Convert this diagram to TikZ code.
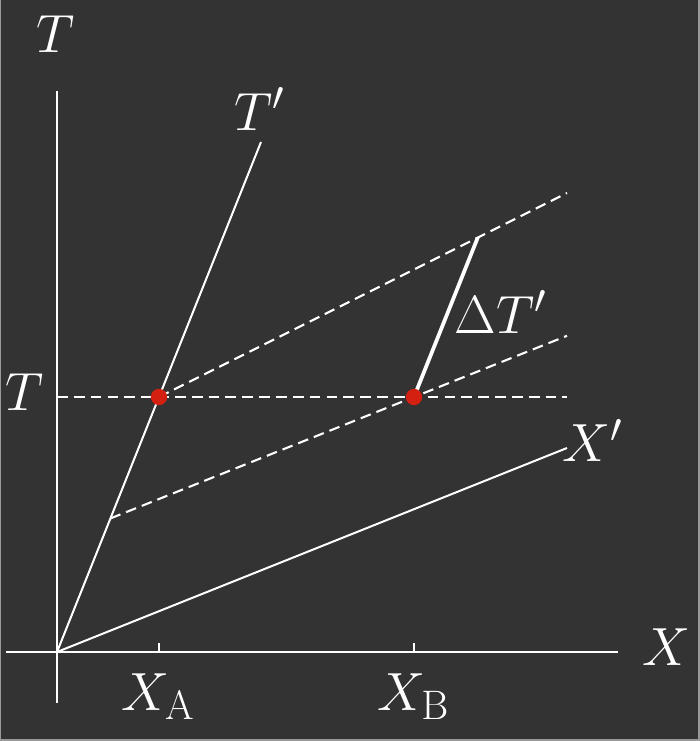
\documentclass[tikz,border=0pt]{standalone}
\usepackage{fix-cm}
\DeclareMathSizes{30}{30}{23}{18}
\definecolor{bgdark}{HTML}{333333}
\definecolor{bgedge}{HTML}{9A9A9A}
\definecolor{dotred}{HTML}{D42010}
\tikzset{
  axisline/.style={white, line width=1.1pt},
  worldline/.style={white, line width=1.1pt},
  simline/.style={white, line width=1.15pt, dash pattern=on 6pt off 3.4pt},
  deltaline/.style={white, line width=2.1pt},
  event/.style={circle, fill=dotred, inner sep=0pt, minimum size=0.32cm},
  lbl/.style={text=white, inner sep=0pt, font=\fontsize{30}{36}\selectfont},
}
\begin{document}
\begin{tikzpicture}
  % background and frame
  \fill[bgedge] (-1.1176,-1.7451) rectangle (12.6078,12.7843);
  \fill[bgdark] (-1.098,-1.706) rectangle (12.559,12.7843);
  \useasboundingbox (-1.1176,-1.7451) rectangle (12.6078,12.7843);

  % coordinates
  \coordinate (O) at (0,0);
  \coordinate (xl) at (-1,0);
  \coordinate (xr) at (11,0);
  \coordinate (yb) at (0,-1);
  \coordinate (yt) at (0,11);
  \coordinate (Tp) at (4,10);
  \coordinate (Xp) at (10,4);
  \coordinate (A) at (2,5);
  \coordinate (B) at (7,5);
  \coordinate (H0) at (0,5);
  \coordinate (H1) at (10,5);
  \coordinate (U1) at (10,9);
  \coordinate (L0) at (1.0476,2.619);
  \coordinate (L1) at (10,6.2);
  \coordinate (D1) at (8.25,8.125);
  \coordinate (ta0) at (2,0);
  \coordinate (ta1) at (2,0.18);
  \coordinate (tb0) at (7,0);
  \coordinate (tb1) at (7,0.18);

  % dashed lines
  \draw[simline] (H0) -- (H1);
  \draw[simline] (A) -- (U1);
  \draw[simline] (L0) -- (L1);

  % axes
  \draw[axisline] (xl) -- (xr);
  \draw[axisline] (yb) -- (yt);
  \draw[axisline] (ta0) -- (ta1);
  \draw[axisline] (tb0) -- (tb1);

  % primed axes
  \draw[worldline] (O) -- (Tp);
  \draw[worldline] (O) -- (Xp);

  % Delta T'
  \draw[deltaline] (B) -- (D1);

  % events
  \node[event] (eA) at (A) {};
  \node[event] (eB) at (B) {};

  % labels
  \node[lbl, anchor=base] (lT) at (-0.02,11.76) {$T$};
  \node[lbl, anchor=base] (lTp) at (3.97,10.235) {$T'$};
  \node[lbl, anchor=base] (lTl) at (-0.64,4.73) {$T$};
  \node[lbl, anchor=base] (lX) at (11.96,-0.27) {$X$};
  \node[lbl, anchor=base] (lXp) at (10.5,3.73) {$X'$};
  \node[lbl, anchor=base] (lD) at (8.70,6.25) {$\Delta T'$};
  \node[lbl, anchor=base] (lXA) at (1.98,-1.14) {$X_{\mathrm{A}}$};
  \node[lbl, anchor=base] (lXB) at (6.99,-1.14) {$X_{\mathrm{B}}$};
\end{tikzpicture}
\end{document}
